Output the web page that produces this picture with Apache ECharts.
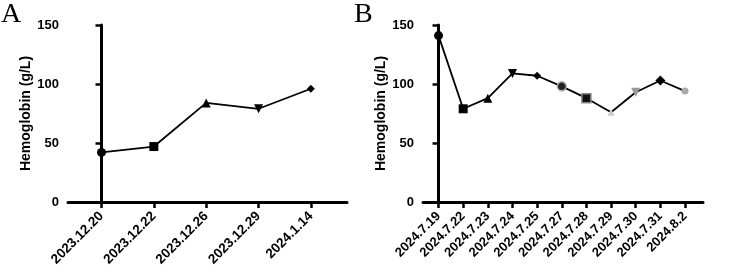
<!DOCTYPE html>
<html><head><meta charset="utf-8">
<script src="https://cdn.jsdelivr.net/npm/echarts@6/dist/echarts.min.js"></script>
<style>html,body{margin:0;padding:0;background:#fff}#c{width:750px;height:275px}</style>
</head><body><div id="c"></div>
<script>
const datesA = ['2023.12.20','2023.12.22','2023.12.26','2023.12.29','2024.1.14'];
const hbA = [42, 47, 84, 79, 96];
const datesB = ['2024.7.19','2024.7.22','2024.7.23','2024.7.24','2024.7.25','2024.7.27','2024.7.28','2024.7.29','2024.7.30','2024.7.31','2024.8.2'];
const hbB = [141, 79, 88, 109, 107, 98, 88, 76, 93, 103, 94];
const yTicks = [0, 50, 100, 150];
const yTitle = 'Hemoglobin (g/L)';

const markerStyles = [
  {symbol:'circle', symbolSize:9, color:'#000'},
  {symbol:'rect', symbolSize:9, color:'#000'},
  {symbol:'triangle', symbolSize:9, color:'#000'},
  {symbol:'triangle', symbolSize:9, color:'#000', rotate:180},
  {symbol:'diamond', symbolSize:8, color:'#000'},
  {symbol:'circle', symbolSize:9, color:'#222', border:'#aaa'},
  {symbol:'rect', symbolSize:9, color:'#111', border:'#888'},
  {symbol:'triangle', symbolSize:7, color:'#ccc'},
  {symbol:'triangle', symbolSize:9, color:'#999', rotate:180},
  {symbol:'diamond', symbolSize:10, color:'#000'},
  {symbol:'circle', symbolSize:7, color:'#aaa'}
];

function pts(vals){
  return vals.map((v,i)=>{
    const m = markerStyles[i];
    return {value:[i,v], symbol:m.symbol, symbolSize:m.symbolSize, symbolRotate:m.rotate||0,
      itemStyle:{color:m.color, borderColor:m.border||m.color, borderWidth:m.border?1.5:0}};
  });
}

function xAxis(idx, cats, min, max, fs){
  const ticks = cats.map((_,i)=>i);
  return {type:'value', gridIndex:idx, min:min, max:max,
    axisLine:{show:true, onZero:false, lineStyle:{color:'#000', width:3}},
    axisTick:{show:true, length:6, customValues:ticks, lineStyle:{color:'#000', width:2.5}},
    axisLabel:{customValues:ticks, rotate:45, margin:12, color:'#000', fontFamily:'Liberation Sans, Arial', fontWeight:'bold', fontSize:fs,
      formatter:v=>cats[Math.round(v)]},
    splitLine:{show:false}};
}
function yAxis(idx){
  return {type:'value', gridIndex:idx, min:0, max:150, interval:50,
    name:yTitle, nameLocation:'middle', nameGap:34,
    nameTextStyle:{color:'#000', fontFamily:'Liberation Sans, Arial', fontWeight:'bold', fontSize:14},
    axisLine:{show:true, lineStyle:{color:'#000', width:3}},
    axisTick:{show:true, length:6, lineStyle:{color:'#000', width:2.5}},
    axisLabel:{customValues:yTicks, margin:9, color:'#000', fontFamily:'Liberation Sans, Arial', fontWeight:'bold', fontSize:13},
    splitLine:{show:false}};
}

const chart = echarts.init(document.getElementById('c'), null, {renderer:'canvas'});
chart.setOption({
  animation:false,
  backgroundColor:'#fff',
  grid:[
    {left:68, top:25, width:279, height:177},
    {left:423, top:25, width:280, height:177}
  ],
  xAxis:[xAxis(0, datesA, -0.64, 4.69, 13.5), xAxis(1, datesB, -0.63, 10.73, 13)],
  yAxis:[yAxis(0), yAxis(1)],
  graphic:[
    {type:'text', left:1, top:1, style:{text:'A', fontFamily:'Liberation Serif, Times New Roman', fontSize:28, fill:'#000'}},
    {type:'text', left:354, top:1, style:{text:'B', fontFamily:'Liberation Serif, Times New Roman', fontSize:28, fill:'#000'}}
  ],
  series:[
    {type:'line', xAxisIndex:0, yAxisIndex:0, data:pts(hbA), lineStyle:{color:'#000', width:1.8}, z:3},
    {type:'line', xAxisIndex:1, yAxisIndex:1, data:pts(hbB), lineStyle:{color:'#000', width:1.8}, z:3}
  ]
});
</script></body></html>
